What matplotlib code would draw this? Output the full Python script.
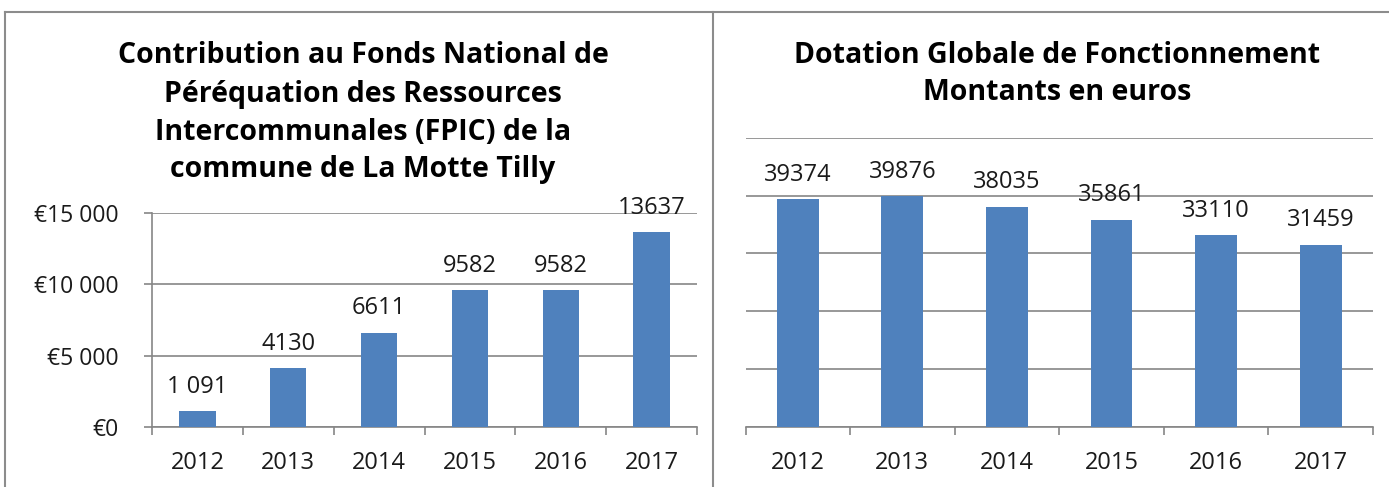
import matplotlib
matplotlib.use("Agg")
import matplotlib.pyplot as plt
from matplotlib.lines import Line2D

years = ["2012", "2013", "2014", "2015", "2016", "2017"]
fpic_values = [1091, 4130, 6611, 9582, 9582, 13637]
fpic_labels = ["1 091", "4130", "6611", "9582", "9582", "13637"]
fpic_ticks = [0, 5000, 10000, 15000]
fpic_ticklabels = ["€0", "€5 000", "€10 000", "€15 000"]
dgf_values = [39374, 39876, 38035, 35861, 33110, 31459]
dgf_labels = ["39374", "39876", "38035", "35861", "33110", "31459"]
dgf_ticks = [0, 10000, 20000, 30000, 40000, 50000]

title_left = ["Contribution au Fonds National de", "Péréquation des Ressources",
              "Intercommunales (FPIC) de la", "commune de La Motte Tilly"]
title_right = ["Dotation Globale de Fonctionnement", "Montants en euros"]

W, H = 1389, 487
plt.rcParams['font.family'] = ['Open Sans', 'DejaVu Sans']
fig = plt.figure(figsize=(W / 100, H / 100), dpi=100)
fig.patch.set_facecolor("white")

BAR = "#4F81BD"
GRID = "#868686"
FRAME = "#8c8c8c"
TXT = "#1a1a1a"


def px_axes(x0, y_top, x1, y_bot):
    return fig.add_axes([x0 / W, (H - y_bot) / H, (x1 - x0) / W, (y_bot - y_top) / H])


def fx(x):
    return x / W


def fy(y):
    return (H - y) / H


# frame lines
fig.add_artist(Line2D([fx(5), fx(W)], [fy(12), fy(12)], color=FRAME, lw=1.5))
fig.add_artist(Line2D([fx(5), fx(5)], [fy(12), fy(H)], color=FRAME, lw=1.5))
fig.add_artist(Line2D([fx(713), fx(713)], [fy(12), fy(H)], color=FRAME, lw=1.5))


def style_axes(ax, n):
    ax.set_xlim(-0.5, n - 0.5)
    ax.set_xticks(range(n))
    ax.set_xticklabels(years, fontsize=17, color=TXT)
    ax.set_xticks([i - 0.5 for i in range(n + 1)], minor=True)
    ax.tick_params(axis="x", which="major", length=0, pad=17)
    ax.tick_params(axis="x", which="minor", length=6, color=GRID, width=1.2)
    for s in ["top", "right"]:
        ax.spines[s].set_visible(False)
    ax.spines["bottom"].set_color(GRID)
    ax.spines["bottom"].set_linewidth(1.2)
    ax.grid(axis="y", color=GRID, lw=1.2)
    ax.set_axisbelow(True)


# Left chart
axl = px_axes(152, 213, 697, 427)
xs = range(len(years))
axl.bar(xs, fpic_values, width=0.4, color=BAR, zorder=3)
style_axes(axl, len(years))
axl.set_ylim(0, 15000)
axl.set_yticks(fpic_ticks)
axl.set_yticklabels(fpic_ticklabels, fontsize=16.5, color=TXT)
axl.tick_params(axis="y", length=6, color=GRID, width=1.2, pad=18)
axl.spines["left"].set_color(GRID)
axl.spines["left"].set_linewidth(1.2)
for x, v, lab in zip(xs, fpic_values, fpic_labels):
    axl.annotate(lab, (x, v), xytext=(0, 9), textcoords="offset points",
                 ha="center", va="bottom", fontsize=17, color=TXT)
for line, base in zip(title_left, [63, 102, 140, 177]):
    fig.text(fx(363), fy(base), line, ha="center", va="baseline",
             fontsize=20.5, fontweight="bold", color="black")

# Right chart
axr = px_axes(745.5, 137.7, 1373, 427)
axr.bar(xs, dgf_values, width=0.4, color=BAR, zorder=3)
style_axes(axr, len(years))
axr.set_ylim(0, 50000)
axr.set_yticks(dgf_ticks)
axr.set_yticklabels([])
axr.tick_params(axis="y", length=0)
axr.spines["left"].set_visible(False)
for x, v, lab in zip(xs, dgf_values, dgf_labels):
    axr.annotate(lab, (x, v), xytext=(0, 9), textcoords="offset points",
                 ha="center", va="bottom", fontsize=17, color=TXT)
for line, base in zip(title_right, [63, 100]):
    fig.text(fx(1057), fy(base), line, ha="center", va="baseline",
             fontsize=20.5, fontweight="bold", color="black")

fig.savefig("out.png", dpi=100, facecolor="white")
